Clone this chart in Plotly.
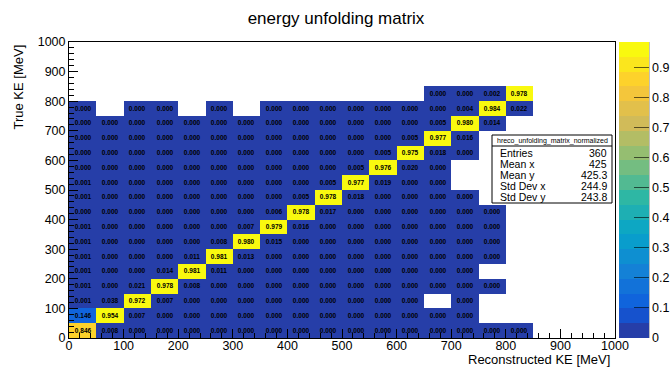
import plotly.graph_objects as go

# Bin layout: 20 x 20 bins of 50 MeV on both axes
x_edges = list(range(0, 1001, 50))
y_edges = list(range(0, 1001, 50))
x_centers = [(a + b) / 2 for a, b in zip(x_edges[:-1], x_edges[1:])]
y_centers = [(a + b) / 2 for a, b in zip(y_edges[:-1], y_edges[1:])]

N = None  # empty bin
# Normalized unfolding matrix, one list per true-KE bin (columns = reco-KE bins 0..16)
row_000 = [0.846, 0.008, 0, 0, 0, 0, 0, 0, 0, 0, 0, 0, 0, 0, 0, 0, 0]
row_050 = [0.146, 0.954, 0.007, 0, 0, 0, 0, 0, 0, 0, 0, 0, 0, 0, 0, N, N]
row_100 = [0.001, 0.038, 0.972, 0.007, 0, 0, 0, 0, 0, 0, 0, 0, 0, N, 0, N, N]
row_150 = [0.001, 0, 0.021, 0.978, 0.008, 0, 0, 0, 0, 0, 0, 0, 0, 0, 0, 0, N]
row_200 = [0.001, 0, 0, 0.014, 0.981, 0.011, 0, 0, 0, 0, 0, 0, 0, 0, 0, N, N]
row_250 = [0.001, 0, 0, 0, 0.011, 0.981, 0.013, 0, 0, 0, 0, 0, 0, 0, 0, 0, N]
row_300 = [0.001, 0, 0, 0, 0, 0.008, 0.980, 0.015, 0, 0, 0, 0, 0, 0, 0, 0, N]
row_350 = [0.001, 0, 0, 0, 0, 0, 0.007, 0.979, 0.016, 0, 0, 0, 0, 0, 0, 0, N]
row_400 = [0, 0, 0, 0, 0, 0, 0, 0.006, 0.978, 0.017, 0, 0, 0, 0, 0, 0, N]
row_450 = [0.001, 0, 0, 0, 0, 0, 0, 0, 0.005, 0.978, 0.018, 0, 0, 0, 0, N, N]
row_500 = [0.001, 0, 0, 0, 0, 0, 0, 0, 0, 0.005, 0.977, 0.019, 0, 0, N, N, N]
row_550 = [0, 0, 0, 0, 0, 0, 0, 0, 0, 0, 0.005, 0.976, 0.020, 0, N, N, N]
row_600 = [0, 0, 0, 0, 0, 0, 0, 0, 0, 0, 0, 0.005, 0.975, 0.018, 0, N, N]
row_650 = [0, 0, 0, 0, 0, 0, 0, 0, 0, 0, 0, 0, 0.005, 0.977, 0.016, N, N]
row_700 = [0, 0, 0, 0, 0, 0, 0, 0, 0, 0, 0, 0, 0, 0.005, 0.980, 0.014, N]
row_750 = [0, N, 0, 0, N, 0, N, 0, 0, 0, 0, 0, 0, 0, 0.004, 0.984, 0.022]
row_800 = [N, N, N, N, N, N, N, N, N, N, N, N, N, 0, 0, 0.002, 0.978]

rows = [row_000, row_050, row_100, row_150, row_200, row_250, row_300, row_350,
        row_400, row_450, row_500, row_550, row_600, row_650, row_700, row_750, row_800]

nx = len(x_centers)
ny = len(y_centers)
z = []
for j in range(ny):
    r = rows[j] if j < len(rows) else []
    z.append(list(r) + [None] * (nx - len(r)))

text = [["" if v is None else f"{v:.3f}" for v in r] for r in z]

stat_labels = ["Entries", "Mean x", "Mean y", "Std Dev x", "Std Dev y"]
stat_values = ["360", "425", "425.3", "244.9", "243.8"]
hist_name = "hreco_unfolding_matrix_normalized"

# ROOT kBird palette, 255 colours, sampled into 20 contour bands
stops = [0.0000, 0.1250, 0.2500, 0.3750, 0.5000, 0.6250, 0.7500, 0.8750, 1.0000]
red = [0.2082, 0.0592, 0.0780, 0.0232, 0.1802, 0.5301, 0.8186, 0.9956, 0.9764]
green = [0.1664, 0.3599, 0.5041, 0.6419, 0.7178, 0.7492, 0.7328, 0.7862, 0.9832]
blue = [0.5293, 0.8684, 0.8385, 0.7914, 0.6425, 0.4662, 0.3499, 0.1968, 0.0539]
NCOL = 255
palette = []
for g in range(len(stops) - 1):
    a = int(stops[g] * NCOL)
    b = int(stops[g + 1] * NCOL)
    n = b - a
    for c in range(n):
        f = c / n
        palette.append((red[g] + (red[g + 1] - red[g]) * f,
                        green[g] + (green[g + 1] - green[g]) * f,
                        blue[g] + (blue[g + 1] - blue[g]) * f))
NDIV = 20
colorscale = []
for i in range(NDIV):
    idx = min(int((i + 0.99) * NCOL / NDIV), NCOL - 1)
    r_, g_, b_ = palette[idx]
    col = f"rgb({round(r_*255)},{round(g_*255)},{round(b_*255)})"
    colorscale.append([i / NDIV, col])
    colorscale.append([(i + 1) / NDIV, col])

zmax = max(v for r in z for v in r if v is not None)

FONT = "Liberation Sans, Arial, Helvetica, sans-serif"
W, H = 672, 369
L, R, T, B = 69, 615, 42, 338
pw, ph = R - L, B - T


def px(xp):
    return (xp - L) / pw


def py(yp):
    return (B - yp) / ph


fig = go.Figure(go.Heatmap(
    x=x_centers, y=y_centers, z=z,
    text=text, texttemplate="%{text}",
    textfont=dict(family=FONT, size=6.5, color="black", weight="bold"),
    colorscale=colorscale, zmin=0, zmax=zmax,
    hoverongaps=False,
    colorbar=dict(
        x=px(619), xanchor="left", xpad=0, xref="paper",
        y=0, yanchor="bottom", ypad=0, len=1, lenmode="fraction",
        thickness=30, thicknessmode="pixels",
        tickvals=[0, 0.1, 0.2, 0.3, 0.4, 0.5, 0.6, 0.7, 0.8, 0.9],
        ticktext=["0", "0.1", "0.2", "0.3", "0.4", "0.5", "0.6", "0.7", "0.8", "0.9"],
        ticks="inside", ticklen=15, tickcolor="rgba(0,0,0,0.6)", tickwidth=1,
        tickfont=dict(family=FONT, size=12.5, color="black"),
        outlinewidth=0,
    ),
))

axis_common = dict(
    range=[0, 1000], dtick=100, tick0=0,
    ticks="inside", ticklen=9, tickwidth=1, tickcolor="black",
    minor=dict(ticks="inside", dtick=20, ticklen=5, tickcolor="black", tickwidth=1),
    showline=True, linecolor="black", linewidth=1, mirror=True,
    showgrid=False, zeroline=False,
    tickfont=dict(family=FONT, size=12.5, color="black"),
)

fig.update_layout(
    width=W, height=H,
    margin=dict(l=L, r=W - R, t=T, b=H - B, autoexpand=False),
    paper_bgcolor="white", plot_bgcolor="white",
    xaxis=dict(axis_common, ticklabelstandoff=-4),
    yaxis=dict(axis_common),
    title=dict(text="energy unfolding matrix", x=0.5, xref="container", xanchor="center",
               y=1 - 18 / H, yref="container", yanchor="middle",
               font=dict(family=FONT, size=17, color="black")),
    showlegend=False,
)

annotations = [
    dict(text="Reconstructed KE [MeV]", xref="paper", yref="paper",
         x=px(612), y=py(359), xanchor="right", yanchor="middle", showarrow=False,
         font=dict(family=FONT, size=13, color="black")),
    dict(text="True KE [MeV]", xref="paper", yref="paper", textangle=-90,
         x=px(18), y=py(43), xanchor="center", yanchor="top", showarrow=False,
         font=dict(family=FONT, size=13, color="black")),
]

# colour-axis line on the right of the palette
shapes = [
    dict(type="line", xref="paper", yref="paper", x0=px(649), x1=px(649), y0=0, y1=1,
         line=dict(color="rgba(0,0,0,0.5)", width=1)),
]

# statistics box
bx0, bx1, by0, by1, bsep = 492, 612, 135, 203, 146
shapes += [
    dict(type="rect", xref="paper", yref="paper", x0=px(bx0), x1=px(bx1), y0=py(by1), y1=py(by0),
         line=dict(color="black", width=1), fillcolor="white", layer="above"),
    dict(type="line", xref="paper", yref="paper", x0=px(bx0), x1=px(bx1), y0=py(bsep), y1=py(bsep),
         line=dict(color="black", width=1), layer="above"),
]
annotations.append(dict(text=hist_name, xref="paper", yref="paper",
                        x=px((bx0 + bx1) / 2), y=py(140.5), xanchor="center", yanchor="middle",
                        showarrow=False, font=dict(family=FONT, size=7, color="black")))
row_y = [152.5, 164, 175, 186, 197]
for lab, val, yy in zip(stat_labels, stat_values, row_y):
    annotations.append(dict(text=lab, xref="paper", yref="paper", x=px(498), y=py(yy),
                            xanchor="left", yanchor="middle", showarrow=False,
                            font=dict(family=FONT, size=10.5, color="black")))
    annotations.append(dict(text=val, xref="paper", yref="paper", x=px(609), y=py(yy),
                            xanchor="right", yanchor="middle", showarrow=False,
                            font=dict(family=FONT, size=10.5, color="black")))

fig.update_layout(annotations=annotations, shapes=shapes)

fig.write_html("out.html")
